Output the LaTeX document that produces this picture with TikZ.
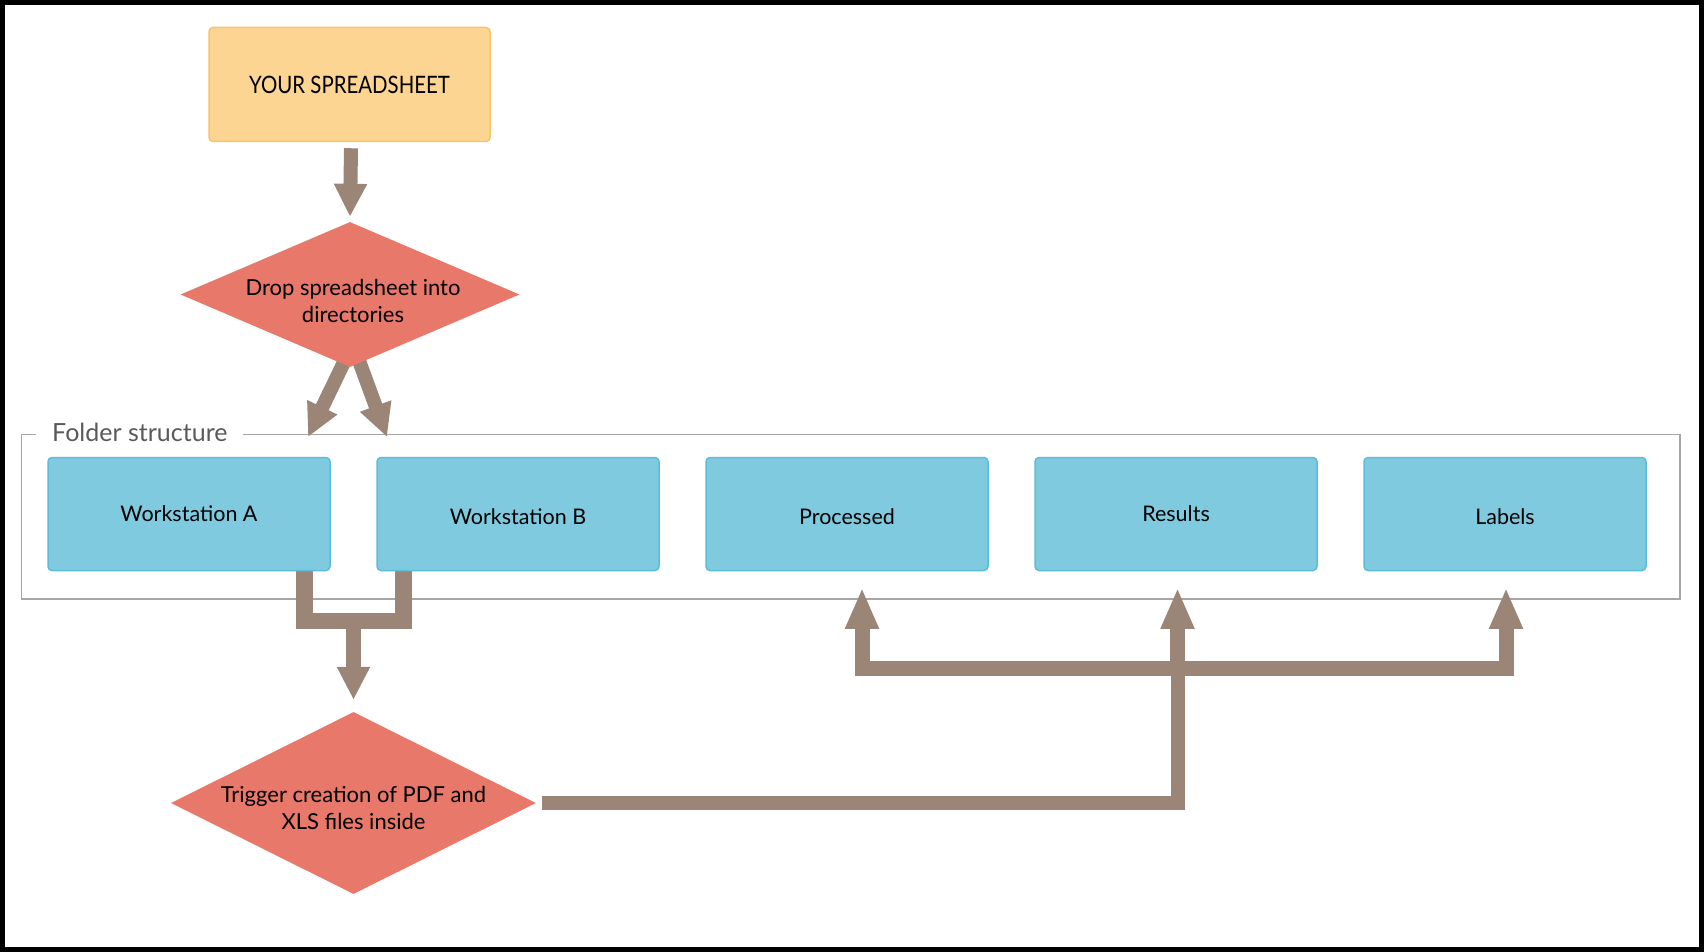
\documentclass[tikz,border=0pt]{standalone}
\usepackage{fontspec}
\setmainfont{Lato}
\usetikzlibrary{shapes.geometric,arrows.meta,calc}
\definecolor{ssfill}{HTML}{FCD593}
\definecolor{ssdraw}{HTML}{F7C46E}
\definecolor{dfill}{HTML}{E8786A}
\definecolor{bfill}{HTML}{80CAE0}
\definecolor{bdraw}{HTML}{5BBDD9}
\definecolor{conncol}{HTML}{9B8576}
\definecolor{framecol}{HTML}{A6A6A6}
\definecolor{labelcol}{HTML}{5A5A5A}
\tikzset{
  ssbox/.style={rectangle, rounded corners=4pt, fill=ssfill, draw=ssdraw, line width=1.5pt,
    minimum width=281pt, minimum height=114pt, inner sep=0pt,
    font=\fontsize{24}{29}\selectfont},
  decision/.style={diamond, fill=dfill, draw=none, inner sep=0pt},
  dtext/.style={align=center, inner sep=0pt, font=\fontsize{22}{27}\selectfont},
  folderbox/.style={rectangle, rounded corners=4pt, fill=bfill, draw=bdraw, line width=1.5pt,
    minimum width=282pt, minimum height=113pt, inner sep=0pt,
    text height=18.5pt, text depth=4pt,
    font=\fontsize{21.5}{26}\selectfont},
  conn/.style={draw=conncol, line width=15pt, line join=miter},
  arrowtip/.style={-{Triangle[width=31pt,length=33pt]}},
  uptip/.style={-{Triangle[width=31pt,length=41pt]}},
}
\begin{document}
\begin{tikzpicture}[x=1pt,y=-1pt]
\useasboundingbox (0,0) rectangle (1704,952);
\fill[white] (0,0) rectangle (1704,952);
\draw[black, line width=5pt] (2.5,2.5) rectangle (1701.5,949.5);

% folder frame
\draw[framecol, line width=1.5pt] (21.7,434.5) rectangle (1680,599);
\node[fill=white, inner xsep=16pt, inner ysep=2pt, text=labelcol, font=\fontsize{25}{30}\selectfont, anchor=west] (flabel) at (36,432) {Folder structure};

% nodes
\node[ssbox] (ss) at (349.5,84.5) {\scalebox{0.85}[1]{YOUR SPREADSHEET}};
\coordinate (tA) at (308,437);
\coordinate (tB) at (387,437);
\coordinate (sA) at (346,358);
\coordinate (sB) at (358,358);
\draw[conn, line width=14pt, arrowtip] (sA) -- (tA);
\draw[conn, line width=14pt, arrowtip] (sB) -- (tB);
\node[decision, minimum width=339pt, minimum height=145pt] (d1) at (350,294.5) {};
\node[dtext] (d1t) at ($(d1.center)+(3,6)$) {Drop spreadsheet into\\directories};
\draw[conn, line width=14pt, arrowtip] ($(ss.south)+(1.5,6)$) -- ($(d1.north)+(0,-5)$);

\node[decision, minimum width=365pt, minimum height=182pt] (d2) at (353.5,803) {};
\node[dtext] (d2t) at ($(d2.center)+(0,5)$) {Trigger creation of PDF and\\XLS files inside};

% merge connector
\coordinate (mA) at (304.5,566);
\coordinate (mB) at (403.5,566);
\coordinate (mC) at (353.5,621);
\draw[conn, line width=16.5pt] (mA) |- (mC) -| (mB);
\draw[conn, arrowtip] (mC) -- ($(d2.north)+(0,-12)$);

\node[folderbox] (wsA) at (189,514) {Workstation A};
\node[folderbox] (wsB) at (518,514) {\raisebox{-3pt}{Workstation B}};
\node[folderbox] (proc) at (847,514) {\raisebox{-3pt}{Processed}};
\node[folderbox] (res) at (1176,514) {Results};
\node[folderbox] (lab) at (1505,514) {\raisebox{-3pt}{Labels}};

% output connector
\coordinate (oS) at ($(d2.east)+(6,0)$);
\coordinate (oJ) at (1177.5,668);
\coordinate (tP) at ($(proc.south)+(15,16.5)$);
\coordinate (tR) at ($(res.south)+(1.5,16.5)$);
\coordinate (tL) at ($(lab.south)+(1,16.5)$);
\draw[conn, line width=14pt] (oS) -- (oJ |- oS) -- ([yshift=-1pt]oJ);
\draw[conn, uptip] (oJ) -| (tP);
\draw[conn, uptip] (oJ) -| (tL);
\draw[conn, uptip] ($(oJ)+(0,8)$) -- (tR);
\end{tikzpicture}
\end{document}
